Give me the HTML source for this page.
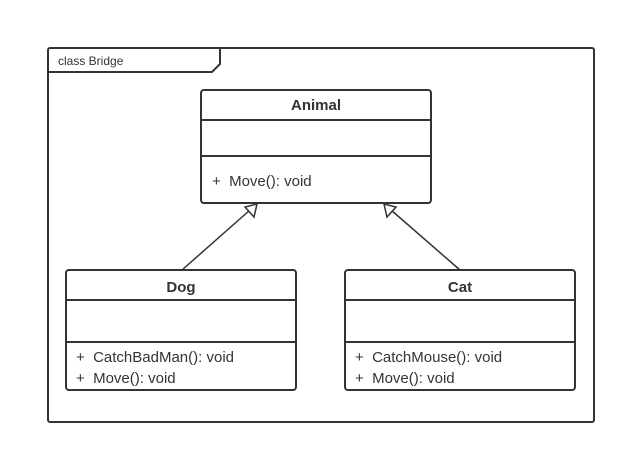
<!DOCTYPE html>
<html><head><style>body{margin:0;background:#fff}svg{display:block}text{font-family:"Liberation Sans",sans-serif;fill:#333;white-space:pre}</style></head>
<body>
<svg width="626" height="455" viewBox="0 0 626 455" xmlns="http://www.w3.org/2000/svg">
<g fill="none" stroke="#333" stroke-width="2">
<rect x="48" y="48" width="546" height="374" rx="2"/>
<path d="M48 72 H212 L220 64 V48"/>
<rect x="201" y="90" width="230" height="113" rx="3" fill="#fff"/>
<line x1="201" y1="120" x2="431" y2="120"/>
<line x1="201" y1="156" x2="431" y2="156"/>
<rect x="66" y="270" width="230" height="120" rx="3" fill="#fff"/>
<line x1="66" y1="300" x2="296" y2="300"/>
<line x1="66" y1="342" x2="296" y2="342"/>
<rect x="345" y="270" width="230" height="120" rx="3" fill="#fff"/>
<line x1="345" y1="300" x2="575" y2="300"/>
<line x1="345" y1="342" x2="575" y2="342"/>
</g>
<g stroke="#333" stroke-width="1.5" fill="#fff">
<line x1="182" y1="270" x2="250" y2="210"/>
<path d="M257 204 L254 217 L245 207 Z"/>
<line x1="460" y1="270" x2="391" y2="210"/>
<path d="M384 204 L396 207 L387 217 Z"/>
</g>
<text x="58" y="65" font-size="12">class Bridge</text>
<text x="316" y="110" font-size="15" font-weight="bold" text-anchor="middle">Animal</text>
<text x="212" y="186" font-size="15">+  Move(): void</text>
<text x="181" y="292" font-size="15" font-weight="bold" text-anchor="middle">Dog</text>
<text x="76" y="362" font-size="15">+  CatchBadMan(): void</text>
<text x="76" y="383" font-size="15">+  Move(): void</text>
<text x="460" y="292" font-size="15" font-weight="bold" text-anchor="middle">Cat</text>
<text x="355" y="362" font-size="15">+  CatchMouse(): void</text>
<text x="355" y="383" font-size="15">+  Move(): void</text>
</svg>
</body></html>
